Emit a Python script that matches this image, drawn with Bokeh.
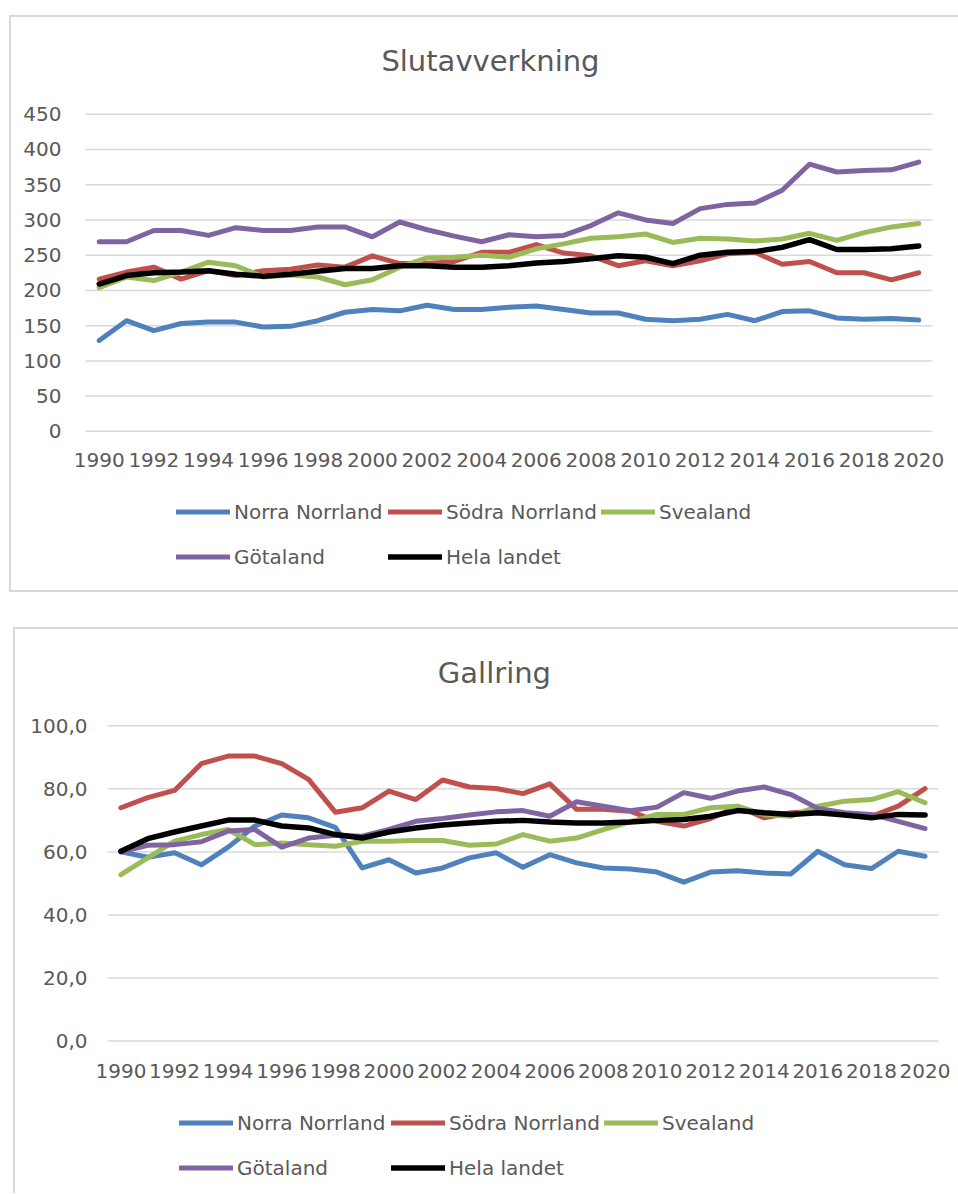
from bokeh.plotting import figure
from bokeh.models import Range1d, FixedTicker, Legend, LegendItem, Label, Spacer
from bokeh.layouts import column, row
from bokeh.embed import file_html
from bokeh.resources import INLINE

years = list(range(1990, 2021))
series_names = ["Norra Norrland", "Södra Norrland", "Svealand", "Götaland", "Hela landet"]
colors = ["#4f81bd", "#c0504d", "#9bbb59", "#8064a2", "#000000"]

# Slutavverkning
norra_s = [129, 157, 143, 153, 155, 155, 148, 149, 157, 169, 173, 171, 179, 173, 173, 176,
           178, 173, 168, 168, 159, 157, 159, 166, 157, 170, 171, 161, 159, 160, 158]
sodra_s = [216, 226, 233, 216, 228, 221, 228, 230, 236, 233, 249, 238, 238, 241, 254, 254,
           265, 253, 249, 235, 242, 235, 242, 252, 254, 237, 241, 225, 225, 215, 225]
svea_s = [204, 219, 214, 226, 240, 235, 219, 222, 219, 208, 215, 233, 246, 247, 250, 247,
          259, 266, 274, 276, 280, 268, 274, 273, 270, 273, 281, 271, 282, 290, 295]
gota_s = [269, 269, 285, 285, 278, 289, 285, 285, 290, 290, 276, 297, 286, 277, 269, 279,
          276, 278, 292, 310, 300, 295, 316, 322, 324, 342, 379, 368, 370, 371, 382]
hela_s = [209, 221, 225, 226, 228, 223, 220, 223, 227, 231, 231, 235, 235, 233, 233, 235,
          239, 241, 245, 249, 247, 238, 250, 254, 255, 261, 272, 258, 258, 259, 263]

# Gallring
norra_g = [60.0, 58.3, 59.7, 55.9, 61.5, 68.2, 71.7, 70.8, 67.8, 54.9, 57.5, 53.3, 54.9, 58.1, 59.7, 55.1,
           59.1, 56.5, 54.9, 54.6, 53.6, 50.4, 53.6, 54.0, 53.3, 53.0, 60.2, 55.9, 54.7, 60.2, 58.6]
sodra_g = [74.0, 77.2, 79.5, 88.0, 90.4, 90.4, 88.0, 83.0, 72.6, 74.0, 79.3, 76.6, 82.8, 80.6, 80.1, 78.5,
           81.6, 73.5, 73.5, 72.9, 69.7, 68.2, 70.6, 74.5, 70.8, 72.4, 72.9, 72.1, 71.3, 74.5, 80.1]
svea_g = [52.8, 58.1, 63.4, 65.5, 67.1, 62.3, 62.8, 62.3, 61.8, 63.4, 63.4, 63.6, 63.6, 62.1, 62.5, 65.5,
          63.4, 64.4, 67.1, 69.5, 71.9, 71.9, 74.0, 74.5, 71.9, 71.3, 74.5, 76.1, 76.6, 79.1, 75.6]
gota_g = [60.0, 62.1, 62.3, 63.2, 66.6, 67.1, 61.5, 64.4, 65.3, 65.0, 67.1, 69.7, 70.6, 71.7, 72.7, 73.1,
          71.3, 75.9, 74.5, 73.1, 74.2, 78.8, 77.0, 79.3, 80.6, 78.2, 73.8, 72.4, 71.9, 69.7, 67.4]
hela_g = [60.2, 64.2, 66.3, 68.2, 70.1, 70.1, 68.2, 67.6, 65.5, 64.4, 66.3, 67.6, 68.5, 69.2, 69.7, 70.0,
          69.5, 69.2, 69.2, 69.5, 70.0, 70.3, 71.3, 73.1, 72.4, 71.9, 72.4, 71.7, 70.8, 71.9, 71.7]

x_ticks = list(range(1990, 2021, 2))
y_ticks_s = list(range(0, 451, 50))
y_ticks_g = [0, 20, 40, 60, 80, 100]
y_labels_g = {v: f"{v},0" for v in y_ticks_g}

FONT = "DejaVu Sans"
TXT = "#595959"
GRID = "#d9d9d9"
X_LO, X_HI = 1989.5, 2020.5


def make_chart(title, data, y_ticks, y_labels, ymax, box, borders, frame_lr, area, title_c,
               y_standoff, x_standoff, legend_loc):
    """box: (x0, y0, w, h) of the chart box on the page; area: plot area (x0, x1, y_top, y_zero)."""
    bx, by, bw, bh = box
    bl, bt, bb = borders
    in_x0, in_y0 = bx + 2 * bl, by + 2 * bt
    in_x1, in_y1 = bx + bw, by + bh - 2 * bb
    f_x0, f_x1 = frame_lr
    a_x0, a_x1, a_yt, a_y0 = area
    ppx = (a_x1 - a_x0) / (X_HI - X_LO)
    ppy = (a_y0 - a_yt) / ymax
    xr = Range1d(X_LO - (a_x0 - f_x0) / ppx, X_HI + (f_x1 - a_x1) / ppx)
    yr = Range1d(-(in_y1 - a_y0) / ppy, ymax + (a_yt - in_y0) / ppy)

    p = figure(width=bw, height=bh, output_backend="svg", toolbar_location=None,
               x_range=xr, y_range=yr,
               min_border_left=f_x0 - in_x0, min_border_right=in_x1 - f_x1,
               min_border_top=0, min_border_bottom=0)
    st = {}
    if bl:
        st["border-left"] = "2px solid #d9d9d9"
    if bt:
        st["border-top"] = "2px solid #d9d9d9"
    if bb:
        st["border-bottom"] = "2px solid #d9d9d9"
    p.styles = st
    p.outline_line_color = None
    p.background_fill_color = "white"
    p.border_fill_color = "white"

    p.xaxis.ticker = FixedTicker(ticks=x_ticks)
    p.xaxis.fixed_location = 0
    p.yaxis.ticker = FixedTicker(ticks=y_ticks)
    if y_labels:
        p.yaxis.major_label_overrides = y_labels
    for ax in (p.xaxis[0], p.yaxis[0]):
        ax.major_tick_line_color = None
        ax.minor_tick_line_color = None
        ax.axis_line_color = None
        ax.major_label_text_font = FONT
        ax.major_label_text_font_size = "20px"
        ax.major_label_text_color = TXT
    p.xaxis.major_label_standoff = x_standoff
    p.yaxis.major_label_standoff = y_standoff
    p.xgrid.grid_line_color = None
    p.ygrid.grid_line_color = None

    # horizontal gridlines spanning the plot area only
    p.segment(x0=[X_LO] * len(y_ticks), x1=[X_HI] * len(y_ticks), y0=y_ticks, y1=y_ticks,
              line_color=GRID, line_width=1.5)

    tcx, tcy = title_c
    p.add_layout(Label(x=X_LO + (tcx - a_x0) / ppx, y=ymax + (a_yt - tcy) / ppy, text=title,
                       text_align="center", text_baseline="middle",
                       text_font=FONT, text_font_size="29px", text_color=TXT))

    items = []
    for name, vals, col in zip(series_names, data, colors):
        r = p.line(years, vals, line_color=col, line_width=5 if col != "#000000" else 5.5,
                   line_join="round", line_cap="round")
        items.append(LegendItem(label=name, renderers=[r]))

    leg = Legend(items=items, location=legend_loc, orientation="horizontal", ncols=3,
                 glyph_width=54, glyph_height=41, label_width=150, label_height=20,
                 label_standoff=4, spacing=4, padding=0, margin=0,
                 border_line_color=None, background_fill_alpha=0,
                 label_text_font=FONT, label_text_font_size="20px", label_text_color=TXT)
    p.add_layout(leg)
    return p


# page coordinates (the page has no body margin)
p1 = make_chart("Slutavverkning", [norra_s, sodra_s, svea_s, gota_s, hela_s], y_ticks_s, None, 450,
                (9, 15, 949, 577), (1, 1, 1), (70, 958), (85, 930, 113, 428), (489, 60),
                3, 16, (106, 17))
p2 = make_chart("Gallring", [norra_g, sodra_g, svea_g, gota_g, hela_g], y_ticks_g, y_labels_g, 100,
                (13, 627, 945, 566), (1, 1, 0), (95, 958), (107, 936, 725, 1039), (493, 672),
                2, 17, (84, 7))

layout = column(Spacer(height=15),
                row(Spacer(width=9), p1),
                Spacer(height=35),
                row(Spacer(width=13), p2),
                spacing=0)
open("out.html", "w").write(file_html(layout, INLINE))
